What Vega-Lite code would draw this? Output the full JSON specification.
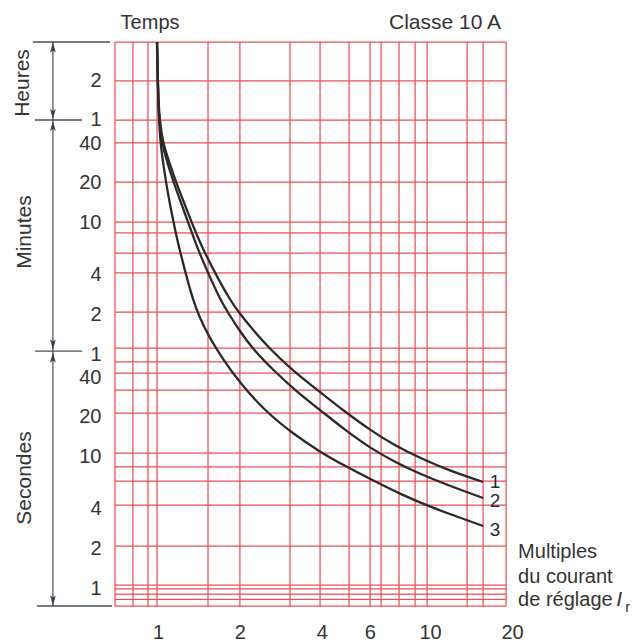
{
  "$schema": "https://vega.github.io/schema/vega-lite/v6.json",
  "width": 397,
  "height": 564,
  "autosize": {"type": "none"},
  "padding": {"left": 115, "top": 42, "right": 124, "bottom": 36},
  "background": "white",
  "config": {"view": {"stroke": null}, "font": "Liberation Sans"},
  "datasets": {
    "hgrid": [
      {"t": 14090}, {"t": 7123}, {"t": 3599}, {"t": 2407}, {"t": 1216}, {"t": 604}, {"t": 498.5},
      {"t": 351}, {"t": 248}, {"t": 125}, {"t": 66.6}, {"t": 52.2}, {"t": 43.0}, {"t": 31.96},
      {"t": 21.37}, {"t": 10.61}, {"t": 8.31}, {"t": 6.5}, {"t": 4.27}, {"t": 2.085}, {"t": 1.054},
      {"t": 0.983}, {"t": 0.9}, {"t": 0.818}, {"t": 0.73}
    ],
    "vgrid": [
      {"I": 0.695}, {"I": 0.809}, {"I": 0.919}, {"I": 0.992}, {"I": 1.527}, {"I": 2.0}, {"I": 3.057},
      {"I": 3.941}, {"I": 5.037}, {"I": 6.017}, {"I": 6.606}, {"I": 7.691}, {"I": 8.809}, {"I": 9.749},
      {"I": 13.68}, {"I": 15.66}, {"I": 19.03}
    ],
    "curves": [
      {"curve": "1", "I": 0.9916, "t": 14090}, {"curve": "1", "I": 1.0, "t": 6085}, {"curve": "1", "I": 1.0128, "t": 3599},
      {"curve": "1", "I": 1.0432, "t": 2407}, {"curve": "1", "I": 1.0929, "t": 1788}, {"curve": "1", "I": 1.1646, "t": 1216},
      {"curve": "1", "I": 1.2357, "t": 888}, {"curve": "1", "I": 1.3279, "t": 604}, {"curve": "1", "I": 1.4149, "t": 441},
      {"curve": "1", "I": 1.4885, "t": 351}, {"curve": "1", "I": 1.6199, "t": 248}, {"curve": "1", "I": 1.8396, "t": 154.3},
      {"curve": "1", "I": 1.9763, "t": 125.1}, {"curve": "1", "I": 2.2351, "t": 91.3}, {"curve": "1", "I": 2.5593, "t": 66.6},
      {"curve": "1", "I": 3.1092, "t": 45.35}, {"curve": "1", "I": 3.9413, "t": 30.86}, {"curve": "1", "I": 4.8287, "t": 22.13},
      {"curve": "1", "I": 6.0172, "t": 15.87}, {"curve": "1", "I": 7.3718, "t": 12.21}, {"curve": "1", "I": 9.1892, "t": 9.724},
      {"curve": "1", "I": 11.846, "t": 7.747}, {"curve": "1", "I": 15.664, "t": 6.39},
      {"curve": "2", "I": 0.9916, "t": 14090}, {"curve": "2", "I": 1.0, "t": 6085}, {"curve": "2", "I": 1.0085, "t": 3599},
      {"curve": "2", "I": 1.0344, "t": 2407}, {"curve": "2", "I": 1.0746, "t": 1788}, {"curve": "2", "I": 1.1401, "t": 1216},
      {"curve": "2", "I": 1.2049, "t": 888}, {"curve": "2", "I": 1.2893, "t": 604}, {"curve": "2", "I": 1.3621, "t": 441},
      {"curve": "2", "I": 1.4208, "t": 351}, {"curve": "2", "I": 1.5268, "t": 248}, {"curve": "2", "I": 1.697, "t": 154.3},
      {"curve": "2", "I": 1.8027, "t": 125.1}, {"curve": "2", "I": 1.9847, "t": 91.3}, {"curve": "2", "I": 2.2163, "t": 66.6},
      {"curve": "2", "I": 2.6475, "t": 45.35}, {"curve": "2", "I": 3.2434, "t": 30.86}, {"curve": "2", "I": 3.9413, "t": 22.52},
      {"curve": "2", "I": 4.8697, "t": 15.87}, {"curve": "2", "I": 6.0172, "t": 11.58}, {"curve": "2", "I": 7.4346, "t": 9.067},
      {"curve": "2", "I": 9.1892, "t": 7.351}, {"curve": "2", "I": 11.846, "t": 5.958}, {"curve": "2", "I": 15.664, "t": 4.83},
      {"curve": "3", "I": 0.9916, "t": 14090}, {"curve": "3", "I": 1.0, "t": 6085}, {"curve": "3", "I": 1.0085, "t": 3599},
      {"curve": "3", "I": 1.0214, "t": 2407}, {"curve": "3", "I": 1.0432, "t": 1726}, {"curve": "3", "I": 1.0701, "t": 1216},
      {"curve": "3", "I": 1.1022, "t": 857.5}, {"curve": "3", "I": 1.1401, "t": 604}, {"curve": "3", "I": 1.1776, "t": 441},
      {"curve": "3", "I": 1.2101, "t": 351}, {"curve": "3", "I": 1.2623, "t": 248}, {"curve": "3", "I": 1.3448, "t": 154.3},
      {"curve": "3", "I": 1.4208, "t": 114.6}, {"curve": "3", "I": 1.5268, "t": 83.66}, {"curve": "3", "I": 1.7189, "t": 55.95},
      {"curve": "3", "I": 2.0016, "t": 36.13}, {"curve": "3", "I": 2.4743, "t": 22.13}, {"curve": "3", "I": 3.1092, "t": 15.06},
      {"curve": "3", "I": 3.9413, "t": 10.8}, {"curve": "3", "I": 4.8697, "t": 8.455}, {"curve": "3", "I": 6.0172, "t": 6.735},
      {"curve": "3", "I": 7.7563, "t": 5.181}, {"curve": "3", "I": 10.257, "t": 4.054}, {"curve": "3", "I": 12.677, "t": 3.463},
      {"curve": "3", "I": 15.664, "t": 2.959}
    ],
    "upTips": [{"t": 14090}, {"t": 3560}, {"t": 62.0}],
    "downTips": [{"t": 3640}, {"t": 64.4}, {"t": 0.73}],
    "one": [{}]
  },
  "layer": [
    {
      "data": {"name": "hgrid"},
      "mark": {"type": "rule", "color": "#ec4f55", "strokeWidth": 1.25},
      "encoding": {
        "y": {"field": "t", "type": "quantitative", "scale": {"type": "log", "domain": [0.73, 14090], "nice": false},
          "axis": {"values": [7200, 3600, 2400, 1200, 600, 240, 120, 60, 40, 20, 10, 4, 2, 1],
            "labelExpr": "'' + (datum.value >= 3600 ? datum.value / 3600 : (datum.value >= 60 ? datum.value / 60 : datum.value))",
            "domain": false, "ticks": false, "grid": false, "title": null, "labelFontSize": 20, "labelColor": "#333333",
            "labelPadding": 14, "labelOverlap": false, "labelBound": false, "labelFlush": false, "labelFont": "Liberation Sans"}},
        "x": {"datum": 0.695, "type": "quantitative", "scale": {"type": "log", "domain": [0.695, 20], "nice": false},
          "axis": {"values": [1, 2, 4, 6, 10, 20], "labelExpr": "'' + datum.value", "domain": false, "ticks": false, "grid": false,
            "title": null, "labelFontSize": 20, "labelColor": "#333333", "labelPadding": 16, "labelOverlap": false,
            "labelBound": false, "labelFlush": false, "labelFont": "Liberation Sans"}},
        "x2": {"datum": 19.03}
      }
    },
    {
      "data": {"name": "vgrid"},
      "mark": {"type": "rule", "color": "#ec4f55", "strokeWidth": 1.25},
      "encoding": {
        "x": {"field": "I", "type": "quantitative", "scale": {"type": "log", "domain": [0.695, 20], "nice": false}, "axis": {"title": null}},
        "y": {"datum": 0.73, "type": "quantitative", "scale": {"type": "log", "domain": [0.73, 14090], "nice": false}, "axis": {"title": null}},
        "y2": {"datum": 14090}
      }
    },
    {
      "data": {"name": "curves"},
      "mark": {"type": "line", "color": "#2a2a2a", "strokeWidth": 2.3, "interpolate": "basis"},
      "encoding": {
        "x": {"field": "I", "type": "quantitative", "scale": {"type": "log", "domain": [0.695, 20], "nice": false}, "axis": {"title": null}},
        "y": {"field": "t", "type": "quantitative", "scale": {"type": "log", "domain": [0.73, 14090], "nice": false}, "axis": {"title": null}},
        "detail": {"field": "curve"}
      }
    },
    {
      "data": {"name": "one"},
      "mark": {"type": "text", "text": "1", "fontSize": 19, "color": "#2a2a2a", "align": "center", "baseline": "middle"},
      "encoding": {"x": {"datum": 17.34, "type": "quantitative", "axis": {"title": null}}, "y": {"datum": 6.39, "type": "quantitative", "axis": {"title": null}}}
    },
    {
      "data": {"name": "one"},
      "mark": {"type": "text", "text": "2", "fontSize": 19, "color": "#2a2a2a", "align": "center", "baseline": "middle"},
      "encoding": {"x": {"datum": 17.34, "type": "quantitative", "axis": {"title": null}}, "y": {"datum": 4.55, "type": "quantitative", "axis": {"title": null}}}
    },
    {
      "data": {"name": "one"},
      "mark": {"type": "text", "text": "3", "fontSize": 19, "color": "#2a2a2a", "align": "center", "baseline": "middle"},
      "encoding": {"x": {"datum": 17.34, "type": "quantitative", "axis": {"title": null}}, "y": {"datum": 2.759, "type": "quantitative", "axis": {"title": null}}}
    },
    {
      "data": {"name": "one"},
      "mark": {"type": "rule", "color": "#4a4f5a", "strokeWidth": 1.3},
      "encoding": {"x": {"datum": 0.347, "type": "quantitative", "axis": {"title": null}}, "x2": {"datum": 0.666}, "y": {"datum": 14090, "type": "quantitative", "axis": {"title": null}}}
    },
    {
      "data": {"name": "one"},
      "mark": {"type": "rule", "color": "#4a4f5a", "strokeWidth": 1.3},
      "encoding": {"x": {"datum": 0.353, "type": "quantitative", "axis": {"title": null}}, "x2": {"datum": 0.526}, "y": {"datum": 3599, "type": "quantitative", "axis": {"title": null}}}
    },
    {
      "data": {"name": "one"},
      "mark": {"type": "rule", "color": "#4a4f5a", "strokeWidth": 1.3},
      "encoding": {"x": {"datum": 0.353, "type": "quantitative", "axis": {"title": null}}, "x2": {"datum": 0.526}, "y": {"datum": 63.2, "type": "quantitative", "axis": {"title": null}}}
    },
    {
      "data": {"name": "one"},
      "mark": {"type": "rule", "color": "#4a4f5a", "strokeWidth": 1.3},
      "encoding": {"x": {"datum": 0.359, "type": "quantitative", "axis": {"title": null}}, "x2": {"datum": 0.678}, "y": {"datum": 0.73, "type": "quantitative", "axis": {"title": null}}}
    },
    {
      "data": {"name": "one"},
      "mark": {"type": "rule", "color": "#4a4f5a", "strokeWidth": 1.2},
      "encoding": {"x": {"datum": 0.411, "type": "quantitative", "axis": {"title": null}}, "y": {"datum": 14090, "type": "quantitative", "axis": {"title": null}}, "y2": {"datum": 0.73}}
    },
    {
      "data": {"name": "upTips"},
      "mark": {"type": "point", "shape": "M0,0L0.7,2.6L0,2.1L-0.7,2.6Z", "filled": true, "size": 64, "color": "#3a3f48", "opacity": 1},
      "encoding": {"x": {"datum": 0.411, "type": "quantitative", "axis": {"title": null}}, "y": {"field": "t", "type": "quantitative", "axis": {"title": null}}}
    },
    {
      "data": {"name": "downTips"},
      "mark": {"type": "point", "shape": "M0,0L0.7,-2.6L0,-2.1L-0.7,-2.6Z", "filled": true, "size": 64, "color": "#3a3f48", "opacity": 1},
      "encoding": {"x": {"datum": 0.411, "type": "quantitative", "axis": {"title": null}}, "y": {"field": "t", "type": "quantitative", "axis": {"title": null}}}
    },
    {
      "data": {"name": "one"},
      "mark": {"type": "text", "text": "Heures", "fontSize": 21, "color": "#333333", "angle": 270, "align": "center", "baseline": "middle"},
      "encoding": {"x": {"datum": 0.319, "type": "quantitative", "axis": {"title": null}}, "y": {"datum": 6877, "type": "quantitative", "axis": {"title": null}}}
    },
    {
      "data": {"name": "one"},
      "mark": {"type": "text", "text": "Minutes", "fontSize": 21, "color": "#333333", "angle": 270, "align": "center", "baseline": "middle"},
      "encoding": {"x": {"datum": 0.324, "type": "quantitative", "axis": {"title": null}}, "y": {"datum": 507, "type": "quantitative", "axis": {"title": null}}}
    },
    {
      "data": {"name": "one"},
      "mark": {"type": "text", "text": "Secondes", "fontSize": 21, "color": "#333333", "angle": 270, "align": "center", "baseline": "middle"},
      "encoding": {"x": {"datum": 0.324, "type": "quantitative", "axis": {"title": null}}, "y": {"datum": 6.85, "type": "quantitative", "axis": {"title": null}}}
    },
    {
      "data": {"name": "one"},
      "mark": {"type": "text", "text": "Temps", "fontSize": 20, "color": "#333333", "align": "center", "baseline": "alphabetic"},
      "encoding": {"x": {"datum": 0.935, "type": "quantitative", "axis": {"title": null}}, "y": {"datum": 17690, "type": "quantitative", "axis": {"title": null}}}
    },
    {
      "data": {"name": "one"},
      "mark": {"type": "text", "text": "Classe 10 A", "fontSize": 21, "color": "#333333", "align": "center", "baseline": "alphabetic"},
      "encoding": {"x": {"datum": 11.35, "type": "quantitative", "axis": {"title": null}}, "y": {"datum": 17690, "type": "quantitative", "axis": {"title": null}}}
    },
    {
      "data": {"name": "one"},
      "mark": {"type": "text", "text": "Multiples", "fontSize": 20, "color": "#333333", "align": "left", "baseline": "alphabetic"},
      "encoding": {"x": {"datum": 21.06, "type": "quantitative", "axis": {"title": null}}, "y": {"datum": 1.69, "type": "quantitative", "axis": {"title": null}}}
    },
    {
      "data": {"name": "one"},
      "mark": {"type": "text", "text": "du courant", "fontSize": 20, "color": "#333333", "align": "left", "baseline": "alphabetic"},
      "encoding": {"x": {"datum": 21.06, "type": "quantitative", "axis": {"title": null}}, "y": {"datum": 1.091, "type": "quantitative", "axis": {"title": null}}}
    },
    {
      "data": {"name": "one"},
      "mark": {"type": "text", "text": "de réglage", "fontSize": 20, "color": "#333333", "align": "left", "baseline": "alphabetic"},
      "encoding": {"x": {"datum": 21.06, "type": "quantitative", "axis": {"title": null}}, "y": {"datum": 0.73, "type": "quantitative", "axis": {"title": null}}}
    },
    {
      "data": {"name": "one"},
      "mark": {"type": "text", "text": "I", "fontSize": 21, "fontStyle": "italic", "color": "#333333", "align": "left", "baseline": "alphabetic"},
      "encoding": {"x": {"datum": 48.3, "type": "quantitative", "axis": {"title": null}}, "y": {"datum": 0.73, "type": "quantitative", "axis": {"title": null}}}
    },
    {
      "data": {"name": "one"},
      "mark": {"type": "text", "text": "r", "fontSize": 15, "color": "#333333", "align": "left", "baseline": "alphabetic"},
      "encoding": {"x": {"datum": 52.1, "type": "quantitative", "axis": {"title": null}}, "y": {"datum": 0.657, "type": "quantitative", "axis": {"title": null}}}
    }
  ]
}
